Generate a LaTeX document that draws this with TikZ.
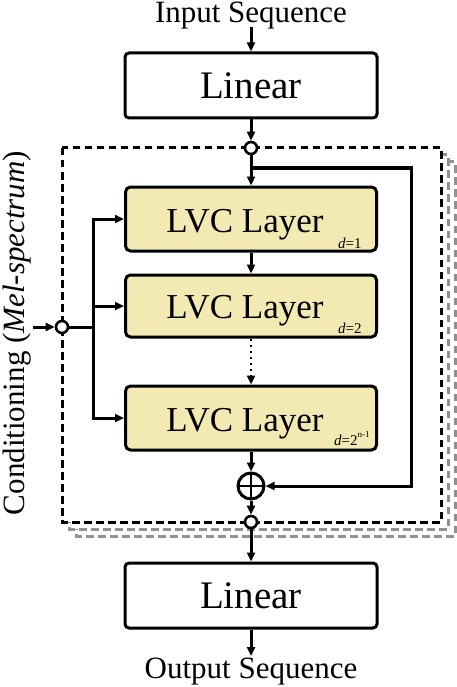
\documentclass[tikz,border=0pt]{standalone}
\usepackage{fontspec}
\setmainfont{Liberation Serif}
\usetikzlibrary{arrows.meta}
\definecolor{lvcfill}{RGB}{243,233,178}
\definecolor{dashgray}{RGB}{145,145,145}
\begin{document}
\begin{tikzpicture}[x=1pt,y=-1pt,
  line width=3pt,
  arr/.style={-{Triangle[length=9pt,width=8pt]}},
  linbox/.style={draw, rounded corners=4pt, minimum width=252pt, minimum height=65pt, inner sep=0pt, fill=white, font=\fontsize{39}{39}\selectfont},
  lvcbox/.style={draw, rounded corners=5pt, fill=lvcfill, minimum width=251pt, minimum height=64pt, inner sep=0pt},
  lvctext/.style={anchor=base, inner sep=0pt, font=\fontsize{35}{35}\selectfont},
  subtext/.style={anchor=base east, inner sep=0pt, font=\fontsize{15}{15}\selectfont},
  iotext/.style={anchor=base, inner sep=0pt, font=\fontsize{31}{31}\selectfont},
  junc/.style={draw, circle, fill=white, minimum size=12pt, inner sep=0pt, line width=2.6pt},
  dashbox/.style={dash pattern=on 7.5pt off 4.5pt, line width=3pt},
  plusnode/.style={draw, circle, fill=white, minimum size=26pt, inner sep=0pt,
    path picture={\draw[line width=2.8pt] (path picture bounding box.north) -- (path picture bounding box.south)
      (path picture bounding box.west) -- (path picture bounding box.east);}}
]
\useasboundingbox (0,0) rectangle (457,687);

% stacked dashed frames
\draw[dashbox, draw=dashgray] (76,162) rectangle (455,536);
\draw[dashbox, draw=dashgray, fill=white] (69,155) rectangle (448,529);
\draw[dashbox, draw=black, fill=white] (62,148) rectangle (441,522);

% input / output text
\node[iotext] (intext) at (251,23) {Input Sequence};
\node[iotext] (outtext) at (251,678) {Output Sequence};
\coordinate (inarr) at (251,27);
\coordinate (outarr) at (251,656);

% boxes
\node[linbox] (lin1) at (251,85.5) {Linear};
\node[linbox] (lin2) at (251,595.5) {Linear};
\node[lvcbox] (L1) at (251,219) {};
\node[lvcbox, minimum height=62pt] (L2) at (251,306) {};
\node[lvcbox] (L3) at (251,418) {};

\node[lvctext] (t1) at (245,232) {LVC Layer};
\node[lvctext] (t2) at (245,318) {LVC Layer};
\node[lvctext] (t3) at (245,431) {LVC Layer};
\node[subtext] (s1) at (363,248) {\textit{d}=1};
\node[subtext] (s2) at (363,333) {\textit{d}=2};
\node[subtext] (s3) at (371,445) {\textit{d}=2\raisebox{0.5em}{\fontsize{9}{9}\selectfont n-1}};

% junctions
\node[junc] (c1) at (251,148) {};
\node[junc] (c2) at (251,522) {};
\node[junc] (c3) at (62,327) {};
\node[plusnode] (plus) at (251,486) {};

% main flow
\draw[arr] (inarr) -- (lin1);
\draw[arr] (lin1) -- (c1);
\draw[arr] (c1) -- (L1);
\draw[arr] (L1) -- (L2);
\draw[arr, dash pattern=on 2.5pt off 3.5pt, line width=2.6pt] (L2) -- (L3);
\draw[arr] (L3) -- (plus);
\draw[arr] (plus) -- (c2);
\draw[arr] (c2) -- (lin2);
\draw[arr] (lin2) -- (outarr);

% skip connection
\coordinate (sk) at (251,168);
\coordinate (skr) at (411,168);
\draw[arr] (sk) -- (skr) |- (plus);

% conditioning
\node[iotext, rotate=90] (cond) at (24,333) {Conditioning (\textit{Mel-spectrum})};
\coordinate (condin) at (33,327);
\coordinate (jn) at (93,327);
\draw[arr] (condin) -- (c3);
\draw (c3) -- (jn);
\draw[arr] (jn) |- (L1.west);
\draw[arr] (jn) |- (L2.west);
\draw[arr] (jn) |- (L3.west);
\end{tikzpicture}
\end{document}
